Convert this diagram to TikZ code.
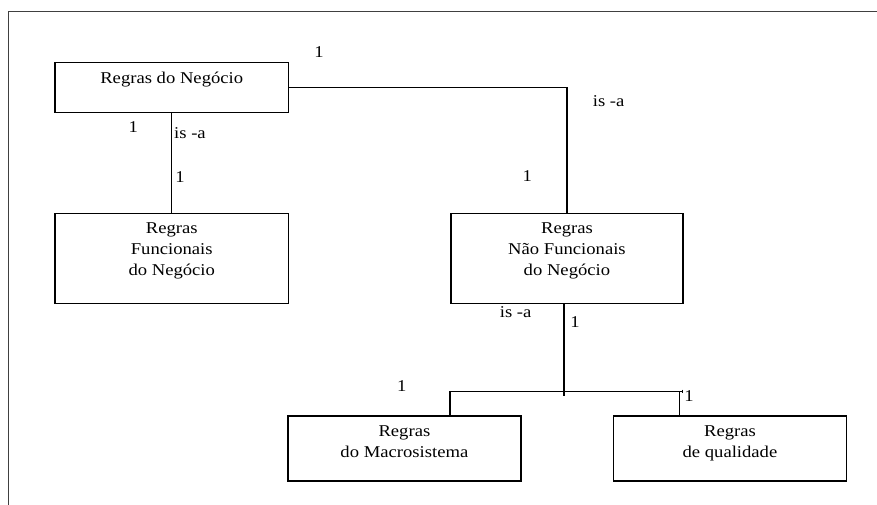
\documentclass[tikz,border=0pt]{standalone}
\usepackage{fontspec}
\setmainfont{Liberation Serif}[FakeStretch=1.13]
\usetikzlibrary{calc}

\tikzset{
  box/.style={draw=black, line width=1.5pt, rectangle, inner sep=0pt, anchor=north west},
  boxtext/.style={anchor=north, inner sep=0pt, align=center, font=\fontsize{16.5}{21}\selectfont},
  link/.style={draw=black, line width=1.3pt},
  mult/.style={inner sep=0pt, font=\fontsize{16.5}{20}\selectfont},
  frame/.style={draw=black!75, line width=1pt}
}

\begin{document}
\begin{tikzpicture}[x=1pt, y=-1pt]
  % page extent
  \useasboundingbox (0,0) rectangle (877,505);

  % outer frame: top and left edges only
  \draw[frame] (877,12) -- (8.3,12) -- (8.3,505);

  % boxes
  \node[box, minimum width=233.4pt, minimum height=50pt] (rn)  at (54.3,62) {};
  \node[box, minimum width=233.4pt, minimum height=90pt] (rf)  at (54.3,212.7) {};
  \node[box, minimum width=232.4pt, minimum height=90pt] (rnf) at (450,212.7) {};
  \node[box, minimum width=232.7pt, minimum height=65pt] (rm)  at (287.3,415) {};
  \node[box, minimum width=233pt,   minimum height=65pt] (rq)  at (612.7,415) {};

  % box texts
  \node[boxtext, yshift=-10.2pt] (rn-t)  at (rn.north)  {Regras do Negócio};
  \node[boxtext, yshift=-10.2pt] (rf-t)  at (rf.north)  {Regras\\Funcionais\\do Negócio};
  \node[boxtext, yshift=-10.2pt] (rnf-t) at (rnf.north) {Regras\\Não Funcionais\\do Negócio};
  \node[boxtext, yshift=-10.2pt] (rm-t)  at (rm.north)  {Regras\\do Macrosistema};
  \node[boxtext, yshift=-10.2pt] (rq-t)  at (rq.north)  {Regras\\de qualidade};

  % connectors
  \draw[link] (rn.south) -- (rf.north);
  \draw[link] (rn.east) -| (rnf.north);

  \coordinate (stem)  at (564,395.5);
  \coordinate (bar-l) at (450,391.7);
  \coordinate (bar-r) at (682.8,391.7);
  \coordinate (drop)  at (679.3,391.7);
  \draw[link] (rnf.south -| stem) -- (stem);
  \draw[link] (rm.north -| bar-l) -- (bar-l) -- (bar-r);
  \draw[link] (drop) -- (drop |- rq.north);
  \draw[link] ([yshift=2.2pt]bar-r) -- ([yshift=-1.2pt]bar-r);

  % multiplicities and relation names
  \node[mult] (m1) at (319,51.7)   {1};
  \node[mult] (m2) at (133.3,127)  {1};
  \node[mult] (l1) at (190,133)    {is -a};
  \node[mult] (m3) at (180,176.7)  {1};
  \node[mult] (l2) at (608.7,101.5){is -a};
  \node[mult] (m4) at (527.3,176.5){1};
  \node[mult] (l3) at (515.7,312)  {is -a};
  \node[mult] (m5) at (575,322)    {1};
  \node[mult] (m6) at (401.7,386)  {1};
  \node[mult] (m7) at (689,395.7)  {1};
\end{tikzpicture}
\end{document}
